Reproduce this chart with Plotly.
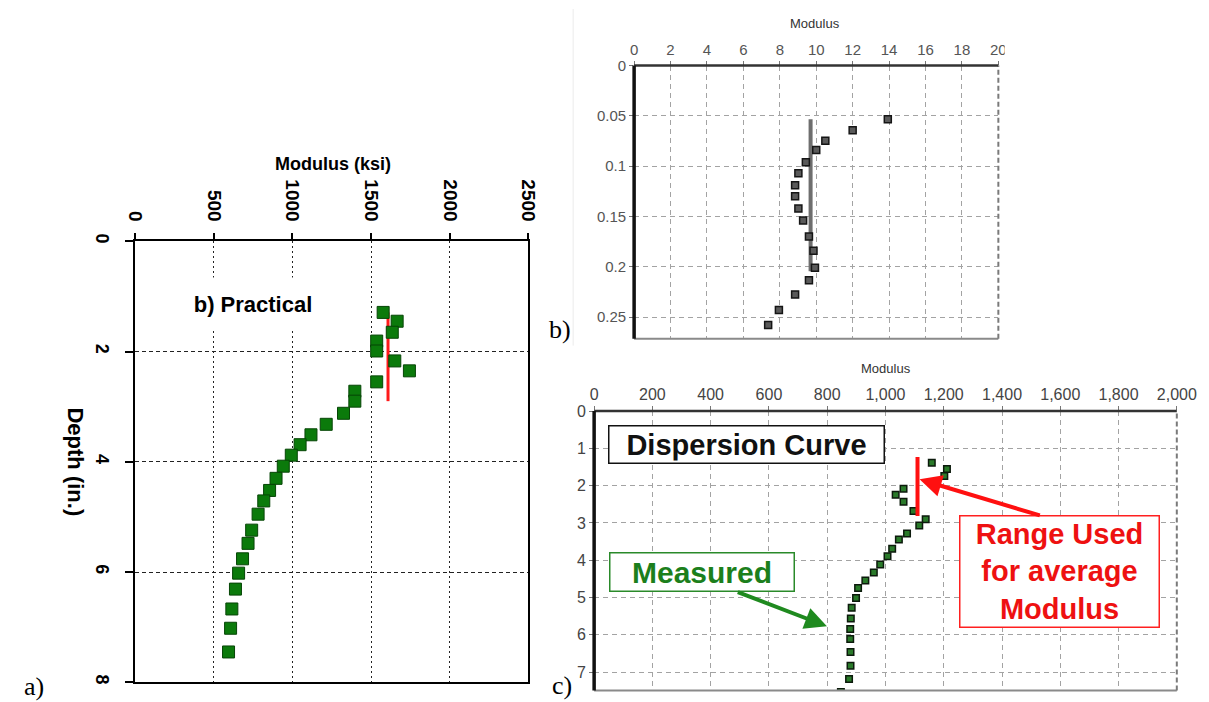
import plotly.graph_objects as go

W, H = 1209, 702

# ---------------- Panel a) data ----------------
a_modulus = [1577, 1666, 1635, 1536, 1536, 1651, 1744, 1536, 1397, 1397, 1325, 1215,
             1118, 1049, 993, 942, 896, 855, 818, 782, 741, 718, 683, 658, 638, 615, 607, 594]
a_depth = [1.29, 1.45, 1.65, 1.81, 1.99, 2.17, 2.35, 2.55, 2.72, 2.90, 3.12, 3.32,
           3.51, 3.69, 3.88, 4.08, 4.30, 4.52, 4.71, 4.95, 5.24, 5.48, 5.76, 6.02, 6.31, 6.67, 7.02, 7.45]
a_avg_modulus = [1608, 1608]
a_avg_depth = [1.29, 2.90]
a_xticks = [0, 500, 1000, 1500, 2000, 2500]
a_yticks = [0, 2, 4, 6, 8]

# ---------------- Panel b) data ----------------
b_modulus = [13.93, 12.0, 10.5, 10.0, 9.43, 9.02, 8.84, 8.84, 9.02, 9.28, 9.6, 9.85,
             9.93, 9.6, 8.84, 7.95, 7.36, 6.93]
b_depth = [0.0534, 0.0643, 0.0747, 0.0840, 0.0961, 0.107, 0.119, 0.130, 0.142, 0.154, 0.170, 0.184,
           0.201, 0.2135, 0.2276, 0.243, 0.258, 0.2755]
b_avg_modulus = [9.69, 9.69]
b_avg_depth = [0.0534, 0.2046]
b_xticks = [0, 2, 4, 6, 8, 10, 12, 14, 16, 18, 20]
b_yticks = [0, 0.05, 0.1, 0.15, 0.2, 0.25]

# ---------------- Panel c) data ----------------
c_modulus = [1159, 1211, 1202, 1062, 1035, 1062, 1096, 1138, 1116, 1074, 1046, 1023, 1007,
             982, 960, 931, 906, 899, 884, 881, 879, 879, 880, 880, 875, 847]
c_depth = [1.385, 1.55, 1.74, 2.08, 2.24, 2.43, 2.68, 2.90, 3.07, 3.28, 3.44, 3.69, 3.89,
           4.11, 4.33, 4.54, 4.74, 5.01, 5.27, 5.56, 5.84, 6.11, 6.46, 6.83, 7.18, 7.53]
c_avg_modulus = [1110, 1110]
c_avg_depth = [1.23, 2.81]
c_xticks = [0, 200, 400, 600, 800, 1000, 1200, 1400, 1600, 1800, 2000]
c_yticks = [0, 1, 2, 3, 4, 5, 6, 7]


def px_x(p):
    return p / W


def px_y(p):
    return 1 - p / H


SANS = "Liberation Sans, Arial, sans-serif"
SERIF = "Liberation Serif, Times New Roman, serif"

fig = go.Figure()

# Panel a traces
fig.add_trace(go.Scatter(x=a_avg_modulus, y=a_avg_depth, mode="lines",
                         line=dict(color="#ff1a1a", width=3), xaxis="x", yaxis="y",
                         showlegend=False))
fig.add_trace(go.Scatter(x=a_modulus, y=a_depth, mode="markers",
                         marker=dict(symbol="square", size=12, color="#0b7a0b",
                                     line=dict(color="#064506", width=1)),
                         xaxis="x", yaxis="y", showlegend=False))

# Panel b traces
fig.add_trace(go.Scatter(x=b_avg_modulus, y=b_avg_depth, mode="lines",
                         line=dict(color="#6e6e6e", width=4), xaxis="x2", yaxis="y2",
                         showlegend=False))
fig.add_trace(go.Scatter(x=b_modulus, y=b_depth, mode="markers",
                         marker=dict(symbol="square", size=7, color="#5a5a5a",
                                     line=dict(color="#151515", width=1.5)),
                         xaxis="x2", yaxis="y2", showlegend=False))

# Panel c traces
fig.add_trace(go.Scatter(x=c_modulus, y=c_depth, mode="markers",
                         marker=dict(symbol="square", size=6.5, color="#2a7a2a",
                                     line=dict(color="#0c1a0c", width=1.5)),
                         xaxis="x3", yaxis="y3", showlegend=False))
fig.add_trace(go.Scatter(x=c_avg_modulus, y=c_avg_depth, mode="lines",
                         line=dict(color="#ff1010", width=4), xaxis="x3", yaxis="y3",
                         showlegend=False))

# ---------------- Axes ----------------
a_axis_common = dict(showline=True, linecolor="black", linewidth=2, mirror=True,
                     ticks="outside", tickcolor="black", tickwidth=1.5,
                     zeroline=False, gridcolor="#222222", gridwidth=1)
fig.update_layout(
    xaxis=dict(domain=[px_x(128.3), px_x(531.5)], range=[0, 2500], side="top", anchor="y",
               tickvals=a_xticks, tickangle=90, ticklen=6, griddash="2px,3px",
               ticklabelstandoff=5,
               tickfont=dict(family=SANS, size=19, color="black", weight="bold"),
               **a_axis_common),
    yaxis=dict(domain=[px_y(684), px_y(236)], range=[8, 0], anchor="x",
               tickvals=a_yticks, tickangle=90, ticklen=8, griddash="4px,3px",
               ticklabelstandoff=8,
               tickfont=dict(family=SANS, size=18, color="black", weight="bold"),
               **a_axis_common),
)

bc_common = dict(showline=False, zeroline=False, ticks="outside", ticklen=4,
                 tickcolor="#777777", tickwidth=1, gridcolor="#a3a3a3", gridwidth=1.2,
                 griddash="5px,4px")
fig.update_layout(
    xaxis2=dict(domain=[px_x(640), px_x(1013.5)], range=[0, 20], side="top", anchor="y2",
                tickvals=b_xticks, tickfont=dict(family=SANS, size=15, color="#555555"),
                **bc_common),
    yaxis2=dict(domain=[px_y(335), px_y(57.5)], range=[0.2716, 0], anchor="x2",
                tickvals=b_yticks, tickfont=dict(family=SANS, size=15, color="#555555"),
                **bc_common),
    xaxis3=dict(domain=[px_x(599), px_x(1196.5)], range=[0, 2000], side="top", anchor="y3",
                tickvals=c_xticks, tickformat=",",
                tickfont=dict(family=SANS, size=16, color="#444444"), **bc_common),
    yaxis3=dict(domain=[px_y(692.3), px_y(408.5)], range=[7.49, 0], anchor="x3",
                tickvals=c_yticks, tickfont=dict(family=SANS, size=16, color="#444444"),
                **bc_common),
)

# ---------------- Borders for panels b and c ----------------
shapes = []
for xa, ya in (("x2", "y2"), ("x3", "y3")):
    xr, yr = f"{xa} domain", f"{ya} domain"
    shapes += [
        dict(type="line", xref=xr, yref=yr, x0=0, x1=1, y0=0, y1=0,
             line=dict(color="#8a8a8a", width=2)),
        dict(type="line", xref=xr, yref=yr, x0=1, x1=1, y0=0, y1=1,
             line=dict(color="#7a7a7a", width=2, dash="5px,3px")),
        dict(type="line", xref=xr, yref=yr, x0=0, x1=1, y0=1, y1=1,
             line=dict(color="#333333", width=2.5)),
        dict(type="line", xref=xr, yref=yr, x0=0, x1=0, y0=0, y1=1,
             line=dict(color="#111111", width=3.5)),
    ]
# faint edge of the pasted panel b picture
shapes.append(dict(type="line", xref="paper", yref="paper", x0=px_x(577.5), x1=px_x(577.5),
                   y0=px_y(342), y1=1, line=dict(color="#ebebeb", width=1)))
# panel b picture is cropped on its right side
shapes.append(dict(type="rect", xref="paper", yref="paper", x0=px_x(1020), x1=1,
                   y0=px_y(345), y1=1, fillcolor="white", line=dict(width=0), layer="above"))


def note(text, xp, yp, **kw):
    d = dict(text=text, x=px_x(xp), y=px_y(yp), xref="paper", yref="paper",
             showarrow=False, xanchor="center", yanchor="middle")
    d.update(kw)
    return d


annotations = [
    # Panel a texts
    note("<b>Modulus (ksi)</b>", 331, 157, font=dict(family=SANS, size=18, color="black")),
    note("<b>Depth (in.)</b>", 67, 460, textangle=90,
         font=dict(family=SANS, size=22, color="black")),
    note("<b>b) Practical</b>", 249, 300, width=190, height=50, bgcolor="white",
         font=dict(family=SANS, size=22, color="black")),
    # Panel b / c titles
    note("Modulus", 825, 15, font=dict(family=SANS, size=13, color="#333333")),
    note("Modulus", 898, 365, font=dict(family=SANS, size=13, color="#333333")),
    # Panel c boxes
    note("<b>Dispersion Curve</b>", 755, 442, width=270, height=32, bgcolor="white",
         bordercolor="#111111", borderwidth=1.5, borderpad=2,
         font=dict(family=SANS, size=29, color="#111111")),
    note("<b>Measured</b>", 709.5, 571.5, width=179, height=33, bgcolor="white",
         bordercolor="#2a8a2a", borderwidth=1.5, borderpad=2,
         font=dict(family=SANS, size=30, color="#1c7f1c")),
    note("<b>Range Used<br>for average<br>Modulus</b>", 1076, 571, width=198, height=110,
         bgcolor="white", bordercolor="#ff2020", borderwidth=1.5, borderpad=0,
         font=dict(family=SANS, size=29, color="#ee1111")),
    # Panel c arrows
    dict(x=1117, y=1.83, ax=1535, ay=2.81, xref="x3", yref="y3", axref="x3", ayref="y3",
         text="", showarrow=True, arrowhead=2, arrowsize=1.1, arrowwidth=4,
         arrowcolor="#ff1010"),
    dict(x=799, y=5.77, ax=488, ay=4.84, xref="x3", yref="y3", axref="x3", ayref="y3",
         text="", showarrow=True, arrowhead=2, arrowsize=1.1, arrowwidth=4,
         arrowcolor="#1f8a1f"),
    # Panel letters
    note("a)", 25, 688, font=dict(family=SERIF, size=26, color="black")),
    note("b)", 564, 326, font=dict(family=SERIF, size=26, color="black")),
    note("c)", 566, 687, font=dict(family=SERIF, size=26, color="black")),
]

fig.update_layout(
    width=W, height=H, autosize=False,
    margin=dict(l=0, r=0, t=0, b=0, pad=0),
    paper_bgcolor="white", plot_bgcolor="white",
    showlegend=False, shapes=shapes, annotations=annotations,
)

fig.write_html("out.html")
